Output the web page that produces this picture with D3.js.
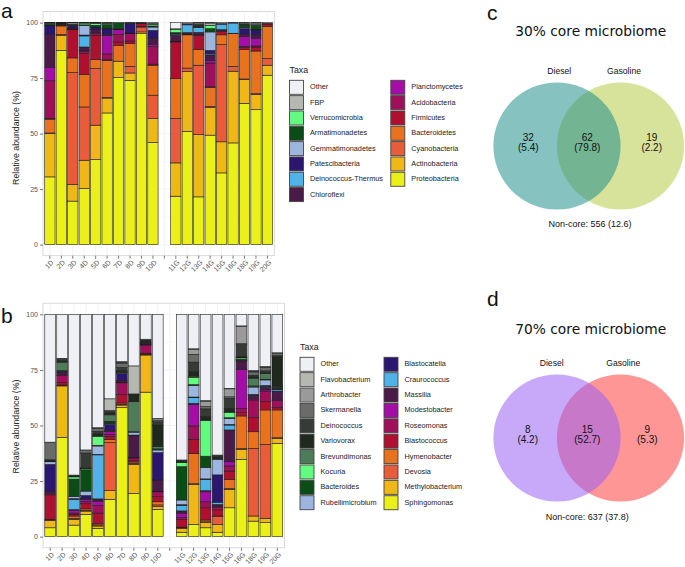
<!DOCTYPE html>
<html><head><meta charset="utf-8">
<script src="https://cdn.jsdelivr.net/npm/d3@7"></script>
<style>body{margin:0;background:#fff}svg{display:block}text{font-family:"Liberation Sans",Arial,sans-serif}</style>
</head><body><svg id="chart" width="685" height="567"></svg>
<script>
// ---------- DATA ----------
const samples = ["1D","2D","3D","4D","5D","6D","7D","8D","9D","10D"," ","11G","12G","13G","14G","15G","16G","18G","19G","20G"];
const sampleNames = ["1D","2D","3D","4D","5D","6D","7D","8D","9D","10D","11G","12G","13G","14G","15G","16G","18G","19G","20G"];
const yTicks = [0,25,50,75,100];

// Panel a: phyla (legend order; stacked bottom-up from last to first)
const phyla = ["Other","FBP","Verrucomicrobia","Armatimonadetes","Gemmatimonadetes","Patescibacteria","Deinococcus-Thermus","Chloroflexi","Planctomycetes","Acidobacteria","Firmicutes","Bacteroidetes","Cyanobacteria","Actinobacteria","Proteobacteria"];
const phylaColors = ["#eff0f5","#b4b8b0","#63fb7f","#0a4d16","#9db6e0","#2b1672","#4fb3e8","#4a1a48","#a40ea6","#a0105a","#b01030","#e8721e","#e85c3a","#f0b816","#ebf018"];
const phylaValues = [
 [0.1,0.2,0.4,0.5,0.2,3.8,0,15,6,17,0.3,6.2,0.3,19.5,30.5],
 [0.1,0,0,0.2,0,0.3,0,0.3,0,0.2,0.4,3.9,0.3,6.8,87.5],
 [0.1,0.6,0,0.5,0,1.2,0,0.5,0,0.3,12.7,6.6,50.4,7.5,19.6],
 [0.1,0.1,0.8,0.3,4.3,0.4,5,1.5,0.5,1,9.3,14.7,24,12.7,25.3],
 [0.1,0.2,0.9,0.8,0,1.2,0,1.5,0,1,11,4,25.5,15.5,38.3],
 [0.2,0.2,0.5,1.8,0.1,2.6,0,0.5,8.2,2.6,0.3,16.7,0.3,6.7,59.3],
 [0,0,0,2.8,0,0.2,0,0.2,2.2,3.3,1.5,7.2,0,7.4,75.2],
 [0.2,0,0,0.2,0,4.3,0,0.3,0,3.3,1.2,10.2,3,3.3,74],
 [0.2,0,0,0,0,0,0,0,0,0.3,1.2,0.3,2.2,0.8,95],
 [0.3,0.5,0.7,0.5,1.5,3.5,0,2.9,0.8,8,0.5,13.5,10.5,10.8,46],
 [2.8,0.2,1.5,0.4,0,0.3,0.5,2.7,0,0.3,16.5,18,20,15,21.8],
 [0.5,0,0,0,0,0.5,3.5,0.4,0,0.3,0.3,15,1.5,27,51],
 [0.2,0.6,0.3,0.6,0,0.5,2.2,1,0,0.3,6.5,7,31.2,28.1,21.5],
 [0.2,1,1.5,1.5,8.3,1.5,0.5,2.5,1.2,10.6,0.5,8.5,0.5,12.4,49.3],
 [0.4,0,0,0,0,0.3,2.5,0.3,0,0.5,1.5,4.4,43.8,14,32.3],
 [0.2,0,0,0,0,0,4.6,0,0,0,0.2,14.7,2.2,32.3,45.8],
 [0.2,0.5,0.3,1.2,0.5,2.5,0,1,4.5,0.5,1,13.2,0.3,10.7,63.6],
 [0.2,0.7,0.3,1.8,0.3,2.2,0,1.5,3.5,0.5,1.8,19.2,0.3,6.9,60.8],
 [0.3,0,0,0,0,0,0,0,0,0.4,1,14.5,3,4.5,76.3]
];

// Panel b: genera
const genera = ["Other","Flavobacterium","Arthrobacter","Skermanella","Deinococcus","Variovorax","Brevundimonas","Kocuria","Bacteroides","Rubellimicrobium","Blastocatella","Craurococcus","Massilia","Modestobacter","Roseomonas","Blastococcus","Hymenobacter","Devosia","Methylobacterium","Sphingomonas"];
const generaColors = ["#eff0f5","#b4b8b0","#9a9a9a","#6a6c6a","#363b36","#1f291e","#4e7b58","#63fb7f","#0a4d16","#9db6e0","#2b1672","#4fb3e8","#4a1a48","#a40ea6","#a0105a","#b01030","#e8721e","#e85c3a","#f0b816","#ebf018"];
const generaValues = [
 [57.5,0.2,0,7.7,0.3,0.3,0,0,0.3,1.2,12,0,1.2,0,0.5,11,0.3,0.3,3.2,4],
 [19.8,0.2,0.2,0.5,0.5,0.3,3.8,0,0.3,0,0.5,0,1.2,0.3,3,1.2,0.2,0.2,23.1,44.7],
 [72.3,0,0,0.2,0.3,0.3,0,1,7.8,1,0.3,4.6,0.4,1.2,0.5,0.8,1,0.5,2.6,5.2],
 [61,0,0,1.4,6.7,0.3,0,0.5,9.6,2,1.2,0,0.5,1,1,2.3,0.6,0.4,1.5,10],
 [51,0.2,0.2,1.2,1,1,0.3,4,0.3,3.8,0.2,19.8,1,2,3.4,4.8,0.5,0.5,1.1,3.7],
 [38,5.3,0,0.4,0.7,0.8,3,0.2,0.8,0.3,2.5,0,0.8,1.2,1,1.2,1.5,21.6,3.9,16.8],
 [21.3,0.3,0.3,2,1.4,0.5,0.3,0,0.3,0.3,3,0,0.8,0.3,5.3,3.8,0.6,0.3,1.2,58],
 [23.2,12.6,0,0,0.5,3,13.5,0,0.2,1.3,0.3,0,9.7,0.3,1.2,0.6,0.6,0.5,13,19.5],
 [11.2,0,0,0,0.8,0.8,0,0,0,0,0.4,0,0.3,0.3,3.7,0.4,0.2,0.2,16.7,65],
 [46.8,0.7,0,0.8,1.5,9.7,1,0,0.5,1.2,12.3,0,5.1,0.2,2.2,2.3,1.4,0.8,1.2,12.3],
 [65.5,0,0,0,0.6,0.6,0,1.8,15,2.1,0.3,2.5,1,2,0.8,3.5,0.3,0.3,1.7,2],
 [15.5,0.3,2.2,3.5,4.3,2,0.5,3.3,0.4,5.2,0.3,2.5,0.5,9.7,6,6.3,13.7,0.3,18,5.5],
 [38.8,0.4,2.3,1,3.5,1.5,0.3,16,5,5.2,0.3,5,0.5,4.5,2.7,5.5,0.8,0.4,2.3,4],
 [63.3,0,0,0,0.8,0.8,0,0,0.3,7,12.3,1,0.7,0.5,1.2,2.8,0.3,3.5,3.5,2],
 [33.3,0.2,3.6,0.7,4.5,1.5,0.3,2.4,0.3,2.7,0.3,2.2,14.3,1.9,2.3,3.7,4.2,0.3,8.3,13],
 [5.2,0.3,7.7,0.4,5.3,0.5,0.2,0.6,0.2,0.2,0.2,0.2,3.7,17.6,1.9,1.5,14.7,0.3,4.5,34.8],
 [25.3,0.3,0.3,1.5,0.8,0.5,3.5,0.2,0.3,3.3,0.5,0.3,1.2,0.5,8,6.3,7.5,30.4,2.3,7],
 [23.5,0.2,0.2,1.5,0.8,0.5,2.5,0,0.3,2.5,0.5,0.3,1.2,0.8,4.5,3.7,15.5,33.3,1.9,6.3],
 [17.3,0.3,0,1,0.5,13.5,0.3,0,0.4,0.3,0.3,0.6,4,0.3,3.2,1,12.5,0.3,2.2,42]
];

// Venn diagrams
const vennSets = ["Diesel","Gasoline"];
const venn30 = {title:"30% core microbiome", counts:["32","62","19"], pcts:["(5.4)","(79.8)","(2.2)"], noncore:"Non-core: 556 (12.6)"};
const venn70 = {title:"70% core microbiome", counts:["8","15","9"], pcts:["(4.2)","(52.7)","(5.3)"], noncore:"Non-core: 637 (37.8)"};

// ---------- DRAW ----------
const svg = d3.select("#chart");

function stackedPanel(cfg){
  const g = svg.append("g");
  const x = d3.scaleBand().domain(samples).range([cfg.x0, cfg.x1]).paddingInner(0.1).paddingOuter(0.15);
  const y = d3.scaleLinear().domain([-5,105]).range([cfg.yb, cfg.yt]);
  // grid
  const grid = g.append("g");
  grid.selectAll(".hg").data([0,12.5,25,37.5,50,62.5,75,87.5,100]).join("line")
    .attr("x1",cfg.x0).attr("x2",cfg.x1).attr("y1",d=>y(d)).attr("y2",d=>y(d))
    .attr("stroke","#ebebeb").attr("stroke-width",d=>d%25===0?0.6:0.3);
  grid.selectAll(".vg").data(samples).join("line")
    .attr("x1",d=>x(d)+x.bandwidth()/2).attr("x2",d=>x(d)+x.bandwidth()/2)
    .attr("y1",cfg.yt).attr("y2",cfg.yb).attr("stroke","#ebebeb").attr("stroke-width",0.6);
  // bars
  const keys = cfg.taxa.slice().reverse();
  const rows = sampleNames.map((s,i)=>{
    const o = {sample:s};
    cfg.taxa.forEach((t,j)=>o[t]=cfg.values[i][j]);
    return o;
  });
  const series = d3.stack().keys(keys)(rows);
  const color = d3.scaleOrdinal().domain(cfg.taxa).range(cfg.colors);
  g.append("g").selectAll("g").data(series).join("g").attr("fill",d=>color(d.key))
    .selectAll("rect").data(d=>d.filter(p=>p[1]-p[0]>0)).join("rect")
    .attr("x",d=>x(d.data.sample)).attr("width",x.bandwidth())
    .attr("y",d=>y(d[1])).attr("height",d=>y(d[0])-y(d[1]))
    .attr("stroke","#1e1e1e").attr("stroke-width",0.6);
  // border
  g.append("rect").attr("x",cfg.x0).attr("y",cfg.yt).attr("width",cfg.x1-cfg.x0).attr("height",cfg.yb-cfg.yt)
    .attr("fill","none").attr("stroke","#d0d0d0").attr("stroke-width",0.8);
  // y axis
  const ya = g.append("g").attr("transform",`translate(${cfg.x0},0)`)
    .call(d3.axisLeft(y).tickValues(yTicks).tickSize(3).tickPadding(2));
  ya.select(".domain").remove();
  ya.selectAll("line").attr("stroke","#777");
  ya.selectAll("text").attr("fill","#555").style("font-size","7px").style("font-family","Liberation Sans, Arial, sans-serif");
  // x axis
  const xa = g.append("g").attr("transform",`translate(0,${cfg.yb})`)
    .call(d3.axisBottom(x).tickSize(3).tickFormat(d=>d.trim()));
  xa.select(".domain").remove();
  xa.selectAll("line").attr("stroke","#777");
  xa.selectAll("text").attr("fill","#555").style("font-size","7px").style("font-family","Liberation Sans, Arial, sans-serif")
    .attr("text-anchor","end").attr("dy",null).attr("y",0)
    .attr("transform","translate(3,6) rotate(-45)").attr("dominant-baseline","middle");
  // y title
  g.append("text").attr("transform",`translate(${cfg.titleX},${cfg.titleY}) rotate(-90)`)
    .attr("text-anchor","middle").attr("fill","#222").style("font-size","8.8px").text("Relative abundance (%)");
  // legend
  const lg = g.append("g");
  lg.append("text").attr("x",cfg.lx).attr("y",cfg.ly-16.6).attr("dominant-baseline","middle")
    .style("font-size","8.8px").attr("fill","#222").text("Taxa");
  const half = Math.ceil(cfg.taxa.length/2);
  const items = lg.selectAll("g.it").data(cfg.taxa).join("g")
    .attr("transform",(d,i)=>`translate(${cfg.lx + (i<half?0:cfg.colGap)},${cfg.ly + (i%half)*cfg.pitch})`);
  items.append("rect").attr("x",0).attr("y",-7).attr("width",14).attr("height",14)
    .attr("fill",d=>color(d)).attr("stroke","#444").attr("stroke-width",0.9);
  items.append("text").attr("x",20.5).attr("y",0).attr("dominant-baseline","middle")
    .style("font-size","7.3px").attr("fill","#222").text(d=>d);
}

stackedPanel({x0:43,x1:274.3,yt:11.5,yb:255.7,titleX:19,titleY:138,taxa:phyla,colors:phylaColors,values:phylaValues,
  lx:289.5,ly:87.3,pitch:15.33,colGap:101.3});
stackedPanel({x0:43,x1:284.5,yt:303.2,yb:547.8,titleX:19,titleY:426.5,taxa:genera,colors:generaColors,values:generaValues,
  lx:300,ly:364.3,pitch:15.38,colGap:84});

// panel letters
[["a",1,18],["b",1,323],["c",487,20],["d",487,306]].forEach(([t,xx,yy])=>{
  svg.append("text").attr("x",xx).attr("y",yy).style("font-size","21px").attr("fill","#111").text(t);
});

function venn(v, cy, cfg){
  const g = svg.append("g");
  const r = 63.6;
  const cx = d3.scaleOrdinal().domain(vennSets).range([557,620.5]);
  g.append("circle").attr("cx",cx("Gasoline")).attr("cy",cy).attr("r",r).attr("fill",cfg.gas).attr("fill-opacity",0.55);
  g.append("circle").attr("cx",cx("Diesel")).attr("cy",cy).attr("r",r).attr("fill",cfg.die).attr("fill-opacity",0.55);
  g.append("text").attr("x",590.7).attr("y",cfg.titleY).attr("text-anchor","middle").attr("dominant-baseline","middle")
    .style("font-family","DejaVu Sans, sans-serif").style("font-size","13.8px").attr("fill","#111").text(v.title);
  vennSets.forEach((s,i)=>{
    g.append("text").attr("x",cfg.labX[i]).attr("y",cfg.labY).attr("text-anchor","middle").attr("dominant-baseline","middle")
      .style("font-size","8.6px").attr("fill","#111").text(s);
  });
  v.counts.forEach((c,i)=>{
    g.append("text").attr("x",cfg.numX[i]).attr("y",cy-7.5).attr("text-anchor","middle").attr("dominant-baseline","middle")
      .style("font-size","10px").attr("fill","#111").text(c);
    g.append("text").attr("x",cfg.numX[i]).attr("y",cy+2).attr("text-anchor","middle").attr("dominant-baseline","middle")
      .style("font-size","10px").attr("fill","#111").text(v.pcts[i]);
  });
  g.append("text").attr("x",cfg.ncX).attr("y",cfg.ncY).attr("text-anchor","middle").attr("dominant-baseline","middle")
    .style("font-size","9px").attr("fill","#111").text(v.noncore);
}
venn(venn30,146,{gas:"#b6cc49",die:"#21908c",titleY:32,labX:[559.3,624],labY:72,numX:[528.3,587.3,651.7],ncX:590,ncY:224.5});
venn(venn70,438,{gas:"#fd4040",die:"#9b61f2",titleY:330,labX:[551.7,623.3],labY:364,numX:[527.7,587.3,647.3],ncX:587.3,ncY:517.3});
</script></body></html>
